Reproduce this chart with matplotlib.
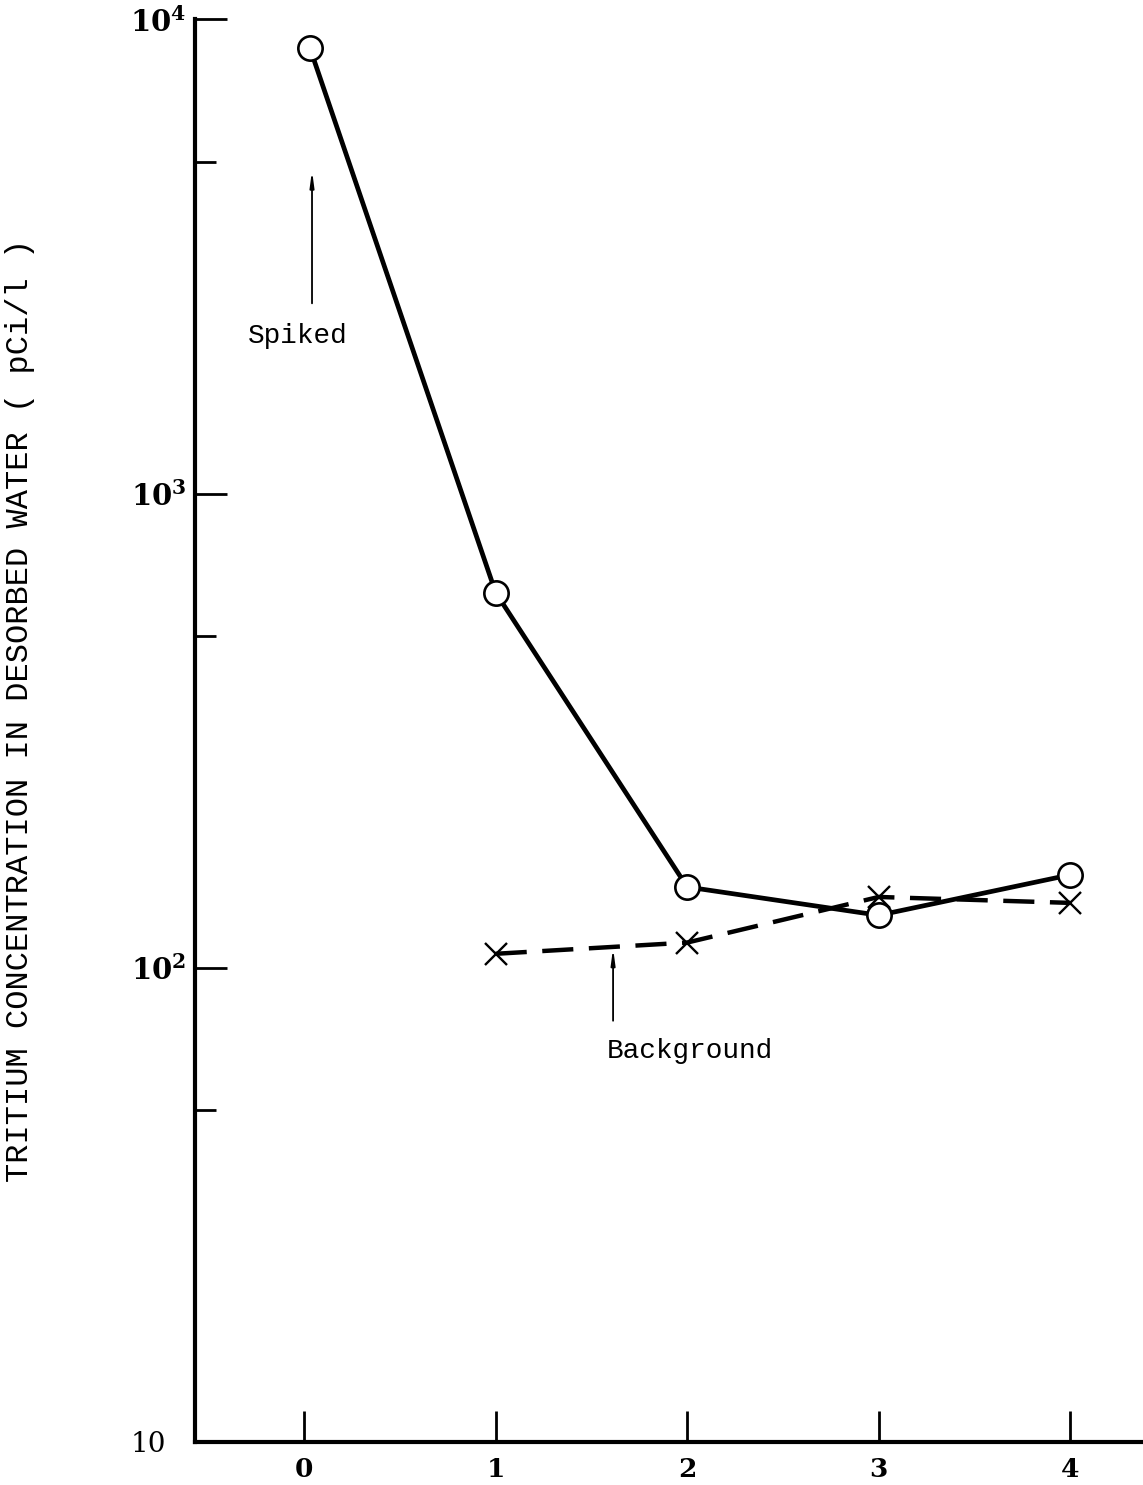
import numpy as np
import matplotlib
matplotlib.use("Agg")
import matplotlib.pyplot as plt
import matplotlib.transforms as mtransforms
from matplotlib.ticker import FixedLocator, NullFormatter

# desorption runs
spiked_x = [0.03, 1.0, 2.0, 3.0, 4.0]
spiked_y = [8700, 618, 148, 129, 157]
bg_x = [1.0, 2.0, 3.0, 4.0]
bg_y = [107, 113, 141, 137]

xticks = [0, 1, 2, 3, 4]
yticks = [10, 100, 1000, 10000]
ytick_labels = ['10', r'$\mathbf{10^2}$', r'$\mathbf{10^3}$', r'$\mathbf{10^4}$']
yminor = [50, 500, 5000]

plt.rcParams['mathtext.fontset'] = 'dejavuserif'

fig = plt.figure(figsize=(11.43, 14.85), dpi=100)
ax = fig.add_axes([0.1706, 0.029, 0.8294, 0.958])

ax.plot(spiked_x, spiked_y, '-', color='k', lw=3.4, marker='o', ms=17.5,
        mfc='white', mec='k', mew=1.9, zorder=3)
ax.plot(bg_x, bg_y, '--', color='k', lw=3.2, dashes=(7, 3.5), marker='x',
        ms=16, mec='k', mew=1.7, zorder=2)

ax.set_yscale('log')
ax.set_ylim(10, 10000)
ax.set_xlim(-0.57, 4.38)

ax.spines['top'].set_visible(False)
ax.spines['right'].set_visible(False)
ax.spines['left'].set_linewidth(3.0)
ax.spines['bottom'].set_linewidth(3.0)

ax.xaxis.set_major_locator(FixedLocator(xticks))
ax.set_xticklabels([str(t) for t in xticks], fontfamily='DejaVu Serif',
                   fontsize=19, fontweight='bold')
ax.tick_params(axis='x', direction='in', length=22, width=2.0, pad=11)

ax.yaxis.set_major_locator(FixedLocator(yticks))
ax.set_yticklabels(ytick_labels, fontfamily='DejaVu Serif', fontsize=21)
ax.yaxis.set_minor_locator(FixedLocator(yminor))
ax.yaxis.set_minor_formatter(NullFormatter())
ax.tick_params(axis='y', which='major', direction='in', length=23, width=2.0, pad=6)
ax.tick_params(axis='y', which='minor', direction='in', length=15, width=2.0)

# the plain "10" sits further out from the axis
lbl10 = ax.yaxis.get_major_ticks()[0].label1
lbl10.set_fontsize(20)
lbl10.set_transform(lbl10.get_transform() +
                    mtransforms.ScaledTranslation(-15 / 72, 0, fig.dpi_scale_trans))

ax.set_ylabel('TRITIUM CONCENTRATION IN DESORBED WATER ( pCi/l )',
              fontfamily='Liberation Mono', fontsize=23)
ax.yaxis.set_label_coords(-0.169, 0.514)

arrow = dict(arrowstyle='-|>,head_width=0.12,head_length=0.9', lw=1.3, color='k',
             shrinkA=0, shrinkB=0)
ax.annotate('', xy=(0.041, 4800), xytext=(0.041, 2518), arrowprops=arrow)
ax.text(-0.032, 2150, 'Spiked', ha='center', va='center',
        fontfamily='Liberation Mono', fontsize=20)
ax.annotate('', xy=(1.613, 110), xytext=(1.613, 77.3), arrowprops=arrow)
ax.text(2.015, 66.8, 'Background', ha='center', va='center',
        fontfamily='Liberation Mono', fontsize=20)

fig.savefig('out.png', dpi=100)
